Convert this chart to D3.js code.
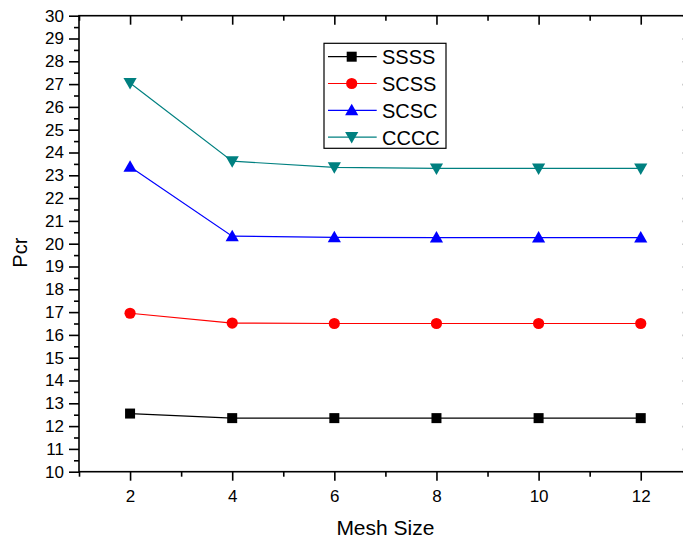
<!DOCTYPE html>
<html>
<head>
<meta charset="utf-8">
<script src="https://cdn.jsdelivr.net/npm/d3@7"></script>
<style>
  body { margin: 0; background: #fff; }
  svg { display: block; font-family: "Liberation Sans", Arial, sans-serif; }
</style>
</head>
<body>
<div id="chart"></div>
<script>
// ---------------- DATA ----------------
const meshSizes = [2, 4, 6, 8, 10, 12];
const seriesNames = ["SSSS", "SCSS", "SCSC", "CCCC"];
const ssss = [12.55, 12.35, 12.35, 12.35, 12.35, 12.35];
const scss = [16.95, 16.52, 16.5, 16.5, 16.5, 16.5];
const scsc = [23.38, 20.33, 20.28, 20.27, 20.27, 20.27];
const cccc = [27.05, 23.62, 23.35, 23.3, 23.3, 23.3];
const xTicks = [2, 4, 6, 8, 10, 12];
const yTicks = d3.range(10, 31, 1);

const series = [
  {name: seriesNames[0], values: ssss, color: "#000000", shape: "square"},
  {name: seriesNames[1], values: scss, color: "#ff0000", shape: "circle"},
  {name: seriesNames[2], values: scsc, color: "#0000ff", shape: "up"},
  {name: seriesNames[3], values: cccc, color: "#008080", shape: "down"}
];

const width = 683, height = 542;
const margin = {top: 15.7, left: 79, right: 691.8, bottom: 471.7};

const svg = d3.select("#chart").append("svg")
  .attr("width", width)
  .attr("height", height);

const x = d3.scaleLinear().domain([1, 13]).range([margin.left, margin.right]);
const y = d3.scaleLinear().domain([10, 30]).range([margin.bottom, margin.top]);

// marker shapes
function marker(sel, shape, color) {
  if (shape === "square") {
    sel.append("rect").attr("x", -5).attr("y", -5).attr("width", 10).attr("height", 10).attr("fill", color);
  } else if (shape === "circle") {
    sel.append("circle").attr("r", 5.6).attr("fill", color);
  } else if (shape === "up") {
    sel.append("path").attr("d", "M0,-6.5L6.6,5L-6.6,5Z").attr("fill", color);
  } else {
    sel.append("path").attr("d", "M0,6.5L6.6,-5L-6.6,-5Z").attr("fill", color);
  }
}

// ---------------- AXES ----------------
const axisW = 1.6;
const fmt = d3.format("d");

// bottom axis
svg.append("g")
  .attr("transform", `translate(0,${margin.bottom})`)
  .call(d3.axisBottom(x).tickValues(xTicks).tickSize(9).tickPadding(9).tickFormat(fmt))
  .call(g => g.select(".domain").remove())
  .call(g => g.selectAll(".tick line").attr("stroke-width", axisW))
  .call(g => g.selectAll("text").attr("font-size", 17).attr("fill", "#000"));
svg.append("g")
  .attr("transform", `translate(0,${margin.bottom})`)
  .call(d3.axisBottom(x).tickValues([1, 3, 5, 7, 9, 11, 13]).tickSize(5).tickFormat(""))
  .call(g => g.select(".domain").remove())
  .call(g => g.selectAll(".tick line").attr("stroke-width", axisW));

// top axis (inward ticks)
svg.append("g")
  .attr("transform", `translate(0,${margin.top})`)
  .call(d3.axisBottom(x).tickValues(xTicks).tickSize(9).tickFormat(""))
  .call(g => g.select(".domain").remove())
  .call(g => g.selectAll(".tick line").attr("stroke-width", axisW));
svg.append("g")
  .attr("transform", `translate(0,${margin.top})`)
  .call(d3.axisBottom(x).tickValues([1, 3, 5, 7, 9, 11, 13]).tickSize(5).tickFormat(""))
  .call(g => g.select(".domain").remove())
  .call(g => g.selectAll(".tick line").attr("stroke-width", axisW));

// left axis
svg.append("g")
  .attr("transform", `translate(${margin.left},0)`)
  .call(d3.axisLeft(y).tickValues(yTicks).tickSize(10).tickPadding(5).tickFormat(fmt))
  .call(g => g.select(".domain").remove())
  .call(g => g.selectAll(".tick line").attr("stroke-width", axisW))
  .call(g => g.selectAll("text").attr("font-size", 17).attr("fill", "#000"));
svg.append("g")
  .attr("transform", `translate(${margin.left},0)`)
  .call(d3.axisLeft(y).tickValues(d3.range(10.5, 30, 1)).tickSize(5).tickFormat(""))
  .call(g => g.select(".domain").remove())
  .call(g => g.selectAll(".tick line").attr("stroke-width", axisW));

// right axis (inward ticks, mostly outside the view)
svg.append("g")
  .attr("transform", `translate(${margin.right},0)`)
  .call(d3.axisRight(y).tickValues(yTicks).tickSize(-9).tickFormat(""))
  .call(g => g.select(".domain").remove())
  .call(g => g.selectAll(".tick line").attr("stroke-width", axisW));

// frame
svg.append("rect")
  .attr("x", margin.left).attr("y", margin.top)
  .attr("width", margin.right - margin.left)
  .attr("height", margin.bottom - margin.top)
  .attr("fill", "none").attr("stroke", "#000").attr("stroke-width", axisW);

// axis titles
svg.append("text")
  .attr("x", (margin.left + margin.right) / 2)
  .attr("y", 535)
  .attr("text-anchor", "middle")
  .attr("font-size", 21)
  .text("Mesh Size");

svg.append("text")
  .attr("transform", `translate(27,${(margin.top + margin.bottom) / 2 + 9}) rotate(-90)`)
  .attr("text-anchor", "middle")
  .attr("font-size", 20)
  .text("Pcr");

// ---------------- SERIES ----------------
const line = d3.line().x((d, i) => x(meshSizes[i])).y(d => y(d));

series.forEach(s => {
  svg.append("path")
    .attr("d", line(s.values))
    .attr("fill", "none")
    .attr("stroke", s.color)
    .attr("stroke-width", 1.2);
  s.values.forEach((v, i) => {
    const g = svg.append("g").attr("transform", `translate(${x(meshSizes[i])},${y(v)})`);
    marker(g, s.shape, s.color);
  });
});

// ---------------- LEGEND ----------------
const legend = svg.append("g");
legend.append("rect")
  .attr("x", 324).attr("y", 43.3).attr("width", 122).attr("height", 105)
  .attr("fill", "#fff").attr("stroke", "#000").attr("stroke-width", 1.2);

series.forEach((s, i) => {
  const ly = 56.7 + i * 26.8;
  legend.append("line")
    .attr("x1", 328).attr("x2", 376.7).attr("y1", ly).attr("y2", ly)
    .attr("stroke", s.color).attr("stroke-width", 1.2);
  const g = legend.append("g").attr("transform", `translate(351.7,${ly})`);
  marker(g, s.shape, s.color);
  legend.append("text")
    .attr("x", 382).attr("y", ly + 7.5)
    .attr("font-size", 20)
    .text(s.name);
});
</script>
</body>
</html>
